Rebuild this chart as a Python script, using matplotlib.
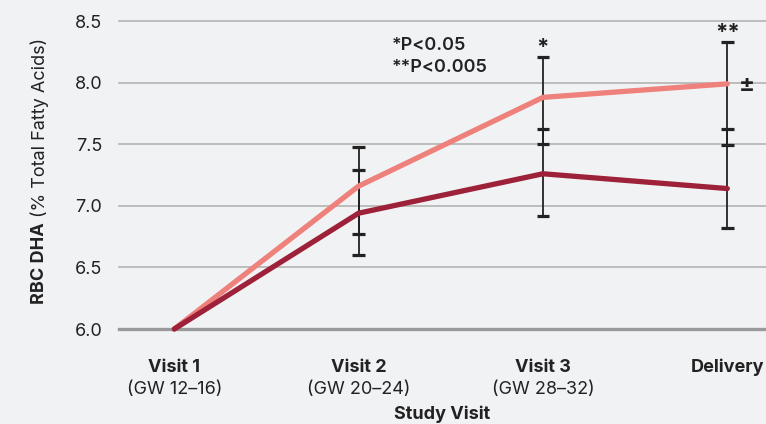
import matplotlib
matplotlib.use("Agg")
import matplotlib.pyplot as plt
from matplotlib.transforms import blended_transform_factory

plt.rcParams['font.family'] = ['Inter', 'DejaVu Sans']

categories = ["Visit 1", "Visit 2", "Visit 3", "Delivery"]
subtitles = ["(GW 12–16)", "(GW 20–24)", "(GW 28–32)", ""]
high_dha = [6.0, 7.16, 7.88, 7.99]
low_dha = [6.0, 6.94, 7.26, 7.14]
high_lower = [6.0, 6.77, 7.50, 7.49]
high_upper = [6.0, 7.48, 8.21, 8.33]
low_lower = [6.0, 6.60, 6.92, 6.82]
low_upper = [6.0, 7.29, 7.62, 7.62]
sig_marks = ["", "", "*", "**"]
yticks = [6.0, 6.5, 7.0, 7.5, 8.0, 8.5]

bg = "#f1f2f4"
c_high = "#ee817b"
c_low = "#9c2139"
c_err = "#222222"
FS = 13

fig = plt.figure(figsize=(7.66, 4.24), dpi=100, facecolor=bg)
ax = fig.add_axes([119/766, (424-329)/424, 1 - 119/766, (329-21)/424])
ax.set_facecolor(bg)
for s in ax.spines.values():
    s.set_visible(False)
ax.set_xlim(-0.30, 3.21)
ax.set_ylim(6.0, 8.5)

for t in yticks:
    if t == 6.0:
        ax.axhline(t, color="#9a9a9a", lw=2.4, clip_on=False, zorder=1)
    else:
        ax.axhline(t, color="#b3b3b3", lw=1.2, clip_on=False, zorder=1)
ax.set_yticks(yticks)
ax.set_yticklabels([f"{t:.1f}" for t in yticks], fontsize=FS, color="#222222")
ax.tick_params(axis='y', length=0, pad=12)
ax.set_xticks([])

x = list(range(len(categories)))
# error bars (skip first point)
for i in x[1:]:
    for lo, hi in ((high_lower[i], high_upper[i]), (low_lower[i], low_upper[i])):
        ax.plot([i, i], [lo, hi], color=c_err, lw=1.3, zorder=2, clip_on=False)
        for v in (lo, hi):
            ax.plot([i - 0.034, i + 0.034], [v, v], color=c_err, lw=2.3, zorder=2,
                    solid_capstyle='butt', clip_on=False)

ax.plot(x, high_dha, color=c_high, lw=3.8, zorder=3, solid_capstyle='round', clip_on=False)
ax.plot(x, low_dha, color=c_low, lw=3.8, zorder=4, solid_capstyle='round', clip_on=False)

for i, m in enumerate(sig_marks):
    if m:
        ax.annotate(m, (i, high_upper[i]), xytext=(0, -1), textcoords='offset points',
                    ha='center', va='bottom', fontsize=16, fontweight='bold', color="#222222")
ax.annotate("±", (x[-1], high_dha[-1]), xytext=(14, -1), textcoords='offset points',
            ha='center', va='center', fontsize=17, fontweight='bold', color="#222222")

fig.text(392/766, 1 - 45/424, "*P<0.05", fontsize=FS, fontweight='semibold',
         color="#222222", va='center', ha='left')
fig.text(392/766, 1 - 68/424, "**P<0.005", fontsize=FS, fontweight='semibold',
         color="#222222", va='center', ha='left')

tr = blended_transform_factory(ax.transData, fig.transFigure)
for i, (c, s) in enumerate(zip(categories, subtitles)):
    ax.text(i, 1 - 367/424, c, transform=tr, ha='center', va='center', fontsize=FS,
            fontweight='bold', color="#222222", clip_on=False)
    if s:
        ax.text(i, 1 - 389/424, s, transform=tr, ha='center', va='center', fontsize=FS,
                color="#222222", clip_on=False)

fig.text(0.5 * (119 + 766) / 766, 1 - 414/424, "Study Visit", ha='center', va='center',
         fontsize=FS, fontweight='bold', color="#222222")

t1 = fig.text(40/766, 1 - 304/424, "RBC DHA", rotation=90, ha='center', va='bottom',
              fontsize=FS, fontweight='bold', color="#222222")
fig.canvas.draw()
bb = t1.get_window_extent()
fig.text(40/766, (bb.y1 + 5) / (4.24 * 100), "(% Total Fatty Acids)", rotation=90,
         ha='center', va='bottom', fontsize=FS, color="#222222")

fig.savefig("out.png", dpi=100, facecolor=bg)
